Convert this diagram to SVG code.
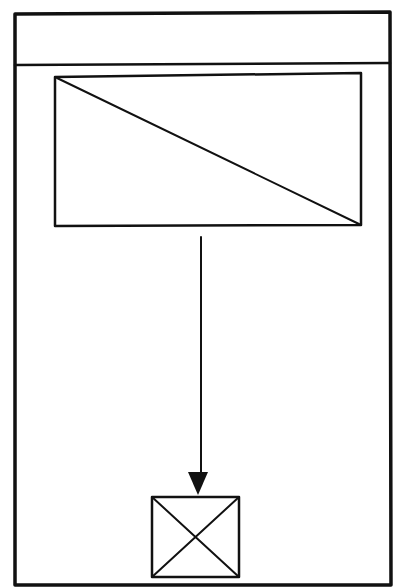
<svg xmlns="http://www.w3.org/2000/svg" width="393" height="587" viewBox="0 0 393 587">
<style>
.ln{fill:none;stroke:#111;stroke-linecap:round;stroke-linejoin:round}
</style>
<defs>
<marker id="ah" viewBox="0 0 10 11" refX="10" refY="5.5" markerWidth="10" markerHeight="11" markerUnits="userSpaceOnUse" orient="auto">
<path d="M0,0 L10,5.5 L0,11 Z" fill="#111"/>
</marker>
</defs>
<rect width="393" height="587" fill="#fff"/>
<g id="frame">
<path class="ln" d="M15,14 L390,12 L391,585 L15,585 Z" stroke-width="3.5"/>
<path class="ln" d="M15,65 L390,63" stroke-width="2.5"/>
</g>
<g id="panel">
<path class="ln" d="M55,77 L361,73 L361,225 L55,226 Z" stroke-width="2.5"/>
<path class="ln" d="M57,78 L359,224" stroke-width="2"/>
</g>
<g id="connectors">
<path class="ln" d="M201,237 L201,474" stroke-width="2"/>
<path d="M188,472 L208,472 L198,495 Z" fill="#111"/>
</g>
<g id="box">
<rect class="ln" x="152" y="497" width="87" height="80" stroke-width="2.5"/>
<path class="ln" d="M152,497 L239,577 M239,497 L152,577" stroke-width="2"/>
</g>
</svg>
